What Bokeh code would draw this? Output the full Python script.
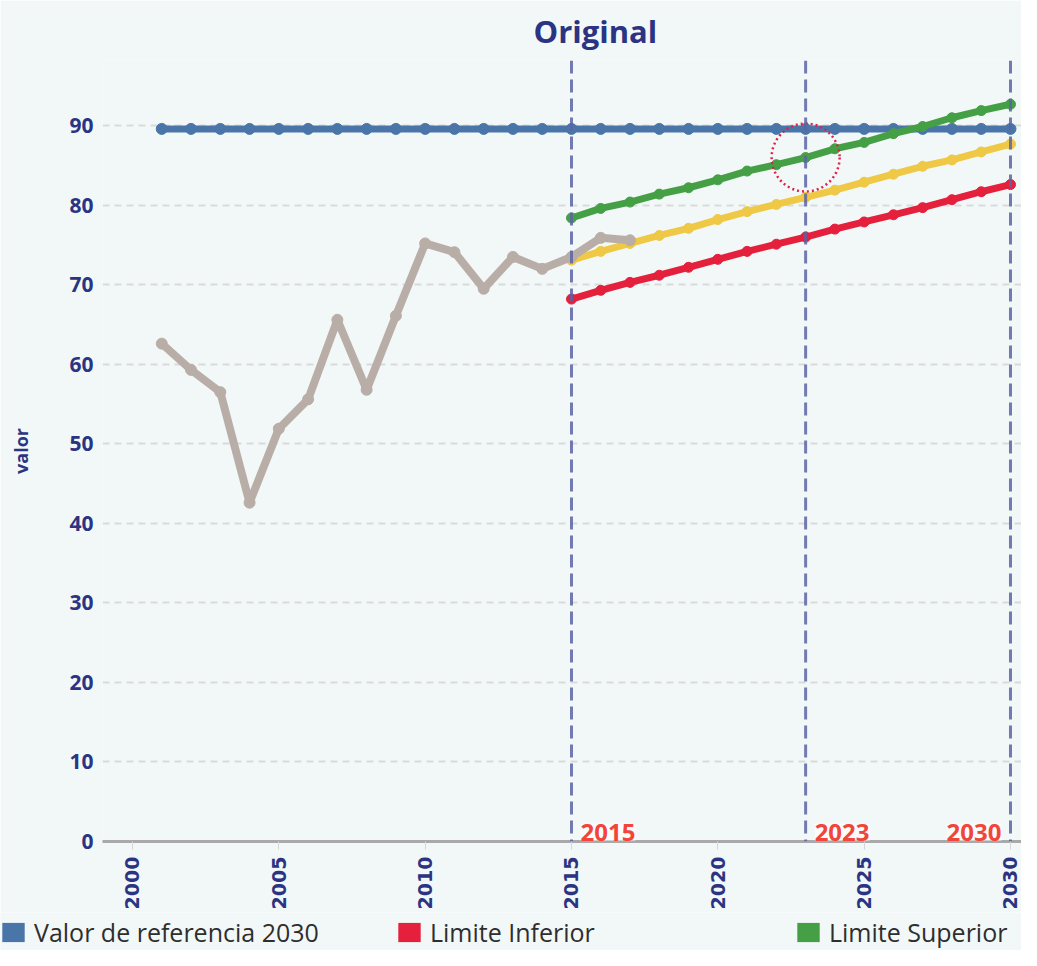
import math
from bokeh.plotting import figure
from bokeh.layouts import column, row
from bokeh.models import (Range1d, FixedTicker, Span, Label, Legend, LegendItem,
                          ColumnDataSource)
from bokeh.embed import file_html
from bokeh.resources import INLINE

# ---------------- data ----------------
hist_years = list(range(2001, 2018))
hist_values = [62.6, 59.3, 56.5, 42.6, 51.9, 55.6, 65.6, 56.8, 66.1, 75.2,
               74.1, 69.5, 73.5, 72.0, 73.5, 75.9, 75.6]

ref_years = list(range(2001, 2031))
ref_values = [89.6] * len(ref_years)

proj_years = list(range(2015, 2031))
upper_values = [78.4, 79.6, 80.4, 81.4, 82.2, 83.2, 84.3, 85.1, 86.0, 87.1,
                87.9, 89.0, 89.9, 91.0, 91.9, 92.7]
mid_values = [73.1, 74.2, 75.2, 76.2, 77.1, 78.2, 79.2, 80.1, 81.0, 81.9,
              82.9, 83.9, 84.9, 85.7, 86.7, 87.7]
lower_values = [68.2, 69.3, 70.3, 71.2, 72.2, 73.2, 74.2, 75.1, 76.0, 77.0,
                77.9, 78.8, 79.7, 80.7, 81.7, 82.6]

marker_years = [2015, 2023, 2030]
highlight_year = 2023
highlight_value = 86.0

x_ticks = [2000, 2005, 2010, 2015, 2020, 2025, 2030]
y_ticks = [0, 10, 20, 30, 40, 50, 60, 70, 80, 90]

legend_labels = ["Valor de referencia 2030", "Limite Inferior", "Limite Superior"]
title_text = "Original"
y_label = "valor"

# ---------------- style ----------------
BG = "#f2f8f8"
NAVY = "#2b3482"
BLUE = "#4a75a8"
GREEN = "#45a045"
YELLOW = "#efc845"
RED = "#e4203c"
GRAY = "#b9aea7"
FONT = "Open Sans"
W = 1021

p = figure(width=W, height=912, output_backend="svg", toolbar_location=None,
           x_range=Range1d(1998.975, 2030.376), y_range=Range1d(0, 98.2),
           background_fill_color=BG, border_fill_color=BG,
           min_border_left=102, min_border_right=0, min_border_top=60,
           min_border_bottom=67, title=title_text)

p.title.text_font = FONT
p.title.text_font_size = "31px"
p.title.text_font_style = "bold"
p.title.text_color = NAVY
p.title.align = "left"
p.title.offset = 431
p.title.vertical_align = "top"
p.title.standoff = 14

p.outline_line_color = None

# grid
p.xgrid.grid_line_color = None
p.ygrid.ticker = FixedTicker(ticks=y_ticks)
p.ygrid.grid_line_color = "#d9d9d9"
p.ygrid.grid_line_width = 2
p.ygrid.grid_line_dash = "7 5"

# y axis
p.yaxis.ticker = FixedTicker(ticks=y_ticks)
p.yaxis.axis_line_color = None
p.yaxis.major_tick_line_color = None
p.yaxis.major_tick_out = 0
p.yaxis.major_tick_in = 0
p.yaxis.minor_tick_line_color = None
p.yaxis.major_label_text_font = FONT
p.yaxis.major_label_text_font_style = "bold"
p.yaxis.major_label_text_font_size = "21px"
p.yaxis.major_label_text_color = NAVY
p.yaxis.major_label_standoff = 9
p.yaxis.axis_label = y_label
p.yaxis.axis_label_text_font = FONT
p.yaxis.axis_label_text_font_style = "bold"
p.yaxis.axis_label_text_font_size = "18px"
p.yaxis.axis_label_text_color = NAVY
p.yaxis.axis_label_standoff = 33

# x axis
p.xaxis.ticker = FixedTicker(ticks=x_ticks)
p.xaxis.axis_line_color = "#a9a9a9"
p.xaxis.axis_line_width = 3
p.xaxis.major_tick_line_color = "#d6d6d6"
p.xaxis.major_tick_out = 8
p.xaxis.major_tick_in = 0
p.xaxis.minor_tick_line_color = None
p.xaxis.major_label_orientation = math.pi / 2
p.xaxis.major_label_text_font = "DejaVu Sans"
p.xaxis.major_label_text_font_style = "bold"
p.xaxis.major_label_text_font_size = "19px"
p.xaxis.major_label_text_color = NAVY
p.xaxis.major_label_standoff = 7

# series
p.line(ref_years, ref_values, line_color=BLUE, line_width=7)
p.scatter(ref_years, ref_values, size=11, fill_color=BLUE, line_color=BLUE)

p.line(proj_years, upper_values, line_color=GREEN, line_width=7)
p.scatter(proj_years, upper_values, size=10, fill_color=GREEN, line_color=GREEN)

p.line(proj_years, mid_values, line_color=YELLOW, line_width=7)
p.scatter(proj_years, mid_values, size=10, fill_color=YELLOW, line_color=YELLOW)

p.line(proj_years, lower_values, line_color=RED, line_width=7)
p.scatter(proj_years, lower_values, size=10, fill_color=RED, line_color=RED)

p.line(hist_years, hist_values, line_color=GRAY, line_width=8)
p.scatter(hist_years, hist_values, size=11, fill_color=GRAY, line_color=GRAY)

# highlight circle
p.scatter([highlight_year], [highlight_value], marker="circle", size=68,
          fill_color=None, line_color="#e0204a", line_width=2.5, line_dash="2 3")

# vertical dashed lines + labels
for yr in marker_years:
    p.add_layout(Span(location=yr, dimension="height", line_color="#5a64a4",
                      line_alpha=0.85, line_width=3, line_dash="13 6"))
for yr in marker_years:
    last = yr == marker_years[-1]
    p.add_layout(Label(x=yr, y=0, x_offset=-9 if last else 9, y_offset=1,
                       text=str(yr), text_align="right" if last else "left",
                       text_baseline="bottom",
                       text_font=FONT, text_font_style="bold", text_font_size="24px",
                       text_color="#f2453a", background_fill_color="#fbfbfb",
                       background_fill_alpha=0.9))

# legend strip below the chart
lf = figure(width=W, height=38, output_backend="svg", toolbar_location=None,
            x_range=Range1d(0, 1), y_range=Range1d(0, 1),
            background_fill_color=BG, border_fill_color=BG,
            min_border=0, outline_line_color=None)
lf.axis.visible = False
lf.grid.visible = False

colors = [BLUE, RED, GREEN]
x_locs = [-1, 395, 794]
for lab, col, xl in zip(legend_labels, colors, x_locs):
    # zero-size swatch renderer: only its legend glyph is seen
    sw = lf.quad(source=ColumnDataSource(dict(left=[0], right=[0], top=[0], bottom=[0])),
                 left="left", right="right", top="top", bottom="bottom",
                 fill_color=col, line_color=None)
    lg = Legend(items=[LegendItem(label=lab, renderers=[sw])],
                orientation="horizontal", location=(xl, 1),
                glyph_width=28, glyph_height=24, label_standoff=7,
                spacing=0, padding=0, margin=0,
                label_text_font=FONT, label_text_font_size="25px",
                label_text_color="#2e2e2e",
                background_fill_alpha=0, border_line_color=None)
    lf.add_layout(lg, "center")

layout = column(p, row(lf, spacing=0), spacing=0)
open("out.html", "w").write(file_html(layout, INLINE))
